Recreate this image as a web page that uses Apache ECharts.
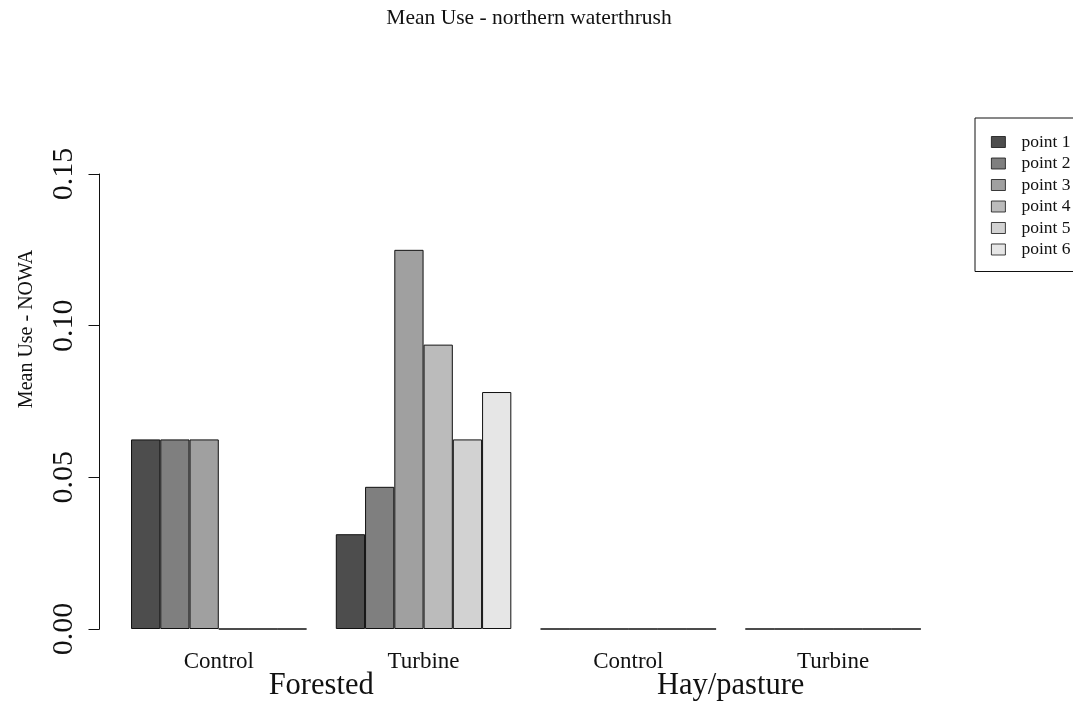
<!DOCTYPE html>
<html>
<head>
<meta charset="utf-8">
<script src="https://cdn.jsdelivr.net/npm/echarts@6/dist/echarts.min.js"></script>
<style>
  html, body { margin: 0; padding: 0; background: #fff; }
  #chart { width: 1073px; height: 705px; }
</style>
</head>
<body>
<div id="chart"></div>
<script>
// Site type within each habitat, and the habitats themselves
const siteTypes = ['Control', 'Turbine', 'Control', 'Turbine'];
const habitats = ['Forested', 'Hay/pasture'];

// Survey points (one series each), in the order Forested Control, Forested Turbine, Hay Control, Hay Turbine
const pointNames = ['point 1', 'point 2', 'point 3', 'point 4', 'point 5', 'point 6'];
const point1 = [0.0625, 0.03125, 0, 0];
const point2 = [0.0625, 0.046875, 0, 0];
const point3 = [0.0625, 0.125, 0, 0];
const point4 = [0, 0.09375, 0, 0];
const point5 = [0, 0.0625, 0, 0];
const point6 = [0, 0.078125, 0, 0];
const pointValues = [point1, point2, point3, point4, point5, point6];

// Y axis ticks
const yTicks = [0, 0.05, 0.10, 0.15];

const greys = ['#4D4D4D', '#7F7F7F', '#A0A0A0', '#BBBBBB', '#D2D2D2', '#E6E6E6'];
const serif = 'Liberation Serif';

const chart = echarts.init(document.getElementById('chart'), null, { renderer: 'canvas' });

const series = pointNames.map((name, i) => ({
  name: name,
  type: 'bar',
  xAxisIndex: 0,
  yAxisIndex: 0,
  data: pointValues[i],
  barGap: '0%',
  barCategoryGap: '14.2857%',
  itemStyle: { color: greys[i], borderColor: '#111', borderWidth: 1 },
  emphasis: { disabled: true },
  animation: false
}));

chart.setOption({
  animation: false,
  backgroundColor: '#ffffff',
  title: {
    text: 'Mean Use - northern waterthrush',
    left: 524,
    top: 2,
    textAlign: 'center',
    textStyle: { fontFamily: serif, fontSize: 21.5, fontWeight: 'normal', color: '#111' }
  },
  grid: { left: 116.4, right: 137.5, top: 174, bottom: 76, containLabel: false },
  legend: {
    orient: 'vertical',
    left: 975,
    top: 118,
    data: pointNames,
    icon: 'rect',
    itemWidth: 14,
    itemHeight: 11,
    itemGap: 3.5,
    padding: [15, 30, 13, 16],
    borderColor: '#111',
    borderWidth: 1,
    selectedMode: false,
    itemStyle: { borderWidth: 0.8 },
    textStyle: { fontFamily: serif, fontSize: 17.5, color: '#111', lineHeight: 18, padding: [0, 0, 0, 11] }
  },
  xAxis: [
    {
      type: 'category',
      position: 'bottom',
      data: siteTypes,
      axisLine: { show: false },
      axisTick: { show: false },
      splitLine: { show: false },
      axisLabel: {
        fontFamily: serif, fontSize: 23, color: '#111',
        lineHeight: 23, margin: 21.5, interval: 0
      }
    },
    {
      type: 'category',
      position: 'bottom',
      data: habitats,
      axisLine: { show: false },
      axisTick: { show: false },
      splitLine: { show: false },
      axisLabel: {
        fontFamily: serif, fontSize: 30.5, color: '#111',
        lineHeight: 30.5, margin: 42, interval: 0
      }
    }
  ],
  yAxis: {
    type: 'value',
    position: 'left',
    offset: 16.9,
    min: yTicks[0],
    max: yTicks[yTicks.length - 1],
    interval: yTicks[1] - yTicks[0],
    splitLine: { show: false },
    axisLine: { show: true, lineStyle: { color: '#111', width: 1 } },
    axisTick: { show: true, length: 11, lineStyle: { color: '#111', width: 1 } },
    axisLabel: {
      rotate: 90,
      margin: 20,
      fontFamily: serif,
      fontSize: 30,
      color: '#111',
      formatter: v => v.toFixed(2)
    }
  },
  graphic: [
    {
      type: 'text',
      x: 27,
      y: 329,
      rotation: Math.PI / 2,
      style: {
        text: 'Mean Use - NOWA',
        font: '20px "Liberation Serif"',
        fill: '#111',
        align: 'center',
        verticalAlign: 'middle'
      }
    }
  ],
  series: series
});
</script>
</body>
</html>
